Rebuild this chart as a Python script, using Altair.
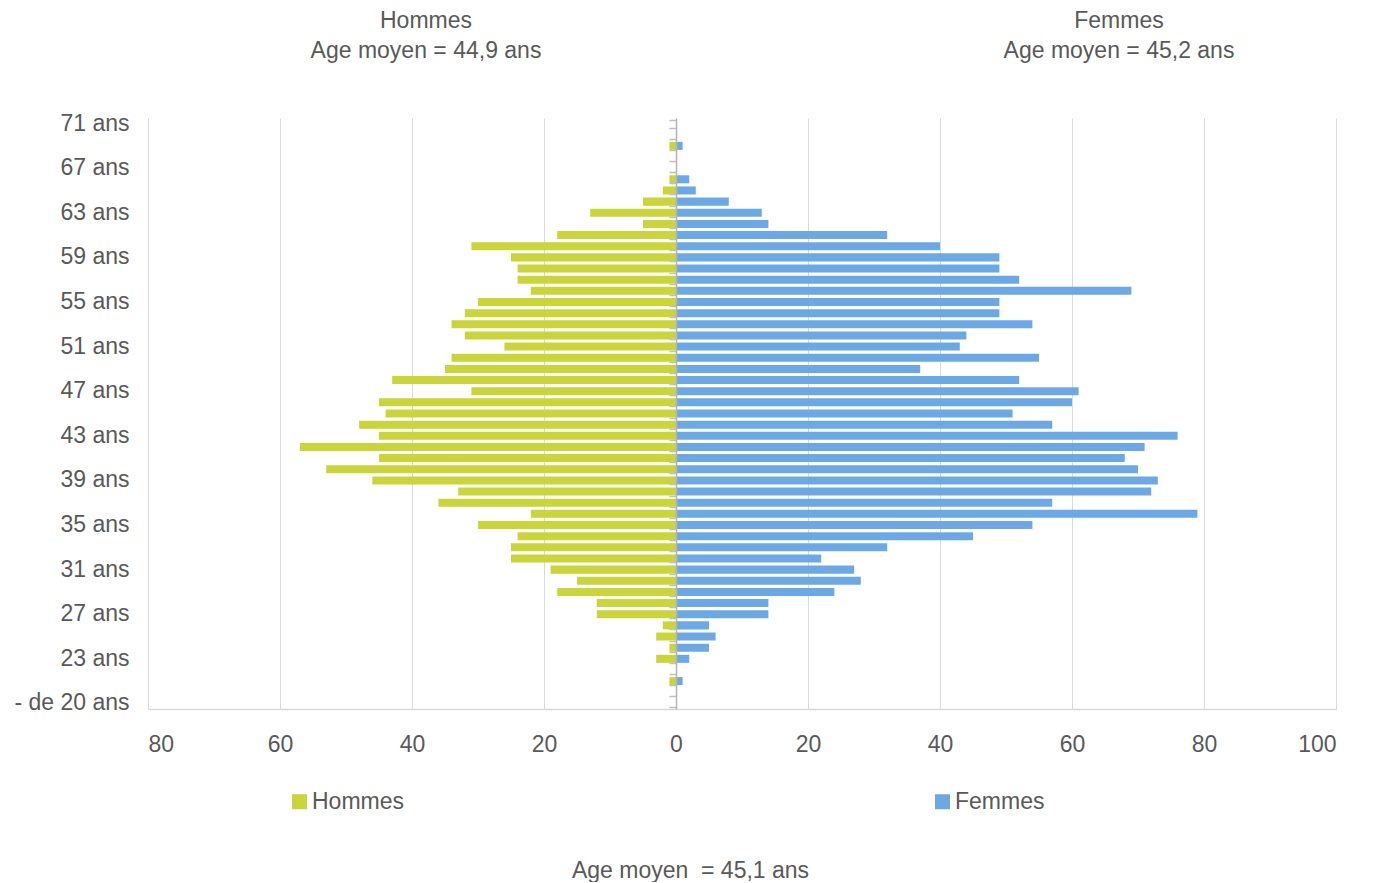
import json
import altair as alt
import pandas as pd

ages = ["- de 20 ans"] + [f"{a} ans" for a in range(20, 72)]
hommes = [0, 0, 1, 0, 3, 1, 3, 2, 12, 12, 18, 15, 19, 25, 25, 24, 30, 22, 36, 33,
          46, 53, 45, 57, 45, 48, 44, 45, 31, 43, 35, 34, 26, 32, 34, 32, 30, 22,
          24, 24, 25, 31, 18, 5, 13, 5, 2, 1, 0, 0, 1, 0, 0]
femmes = [0, 0, 1, 0, 2, 5, 6, 5, 14, 14, 24, 28, 27, 22, 32, 45, 54, 79, 57, 72,
          73, 70, 68, 71, 76, 57, 51, 60, 61, 52, 37, 55, 43, 44, 54, 49, 49, 69,
          52, 49, 49, 40, 32, 14, 13, 8, 3, 2, 0, 0, 1, 0, 0]
shown_labels = ["71 ans", "67 ans", "63 ans", "59 ans", "55 ans", "51 ans", "47 ans",
                "43 ans", "39 ans", "35 ans", "31 ans", "27 ans", "23 ans", "- de 20 ans"]
x_ticks = [-80, -60, -40, -20, 0, 20, 40, 60, 80, 100]
sexes = ["Hommes", "Femmes"]
title_hommes = ["Hommes", "Age moyen = 44,9 ans"]
title_femmes = ["Femmes", "Age moyen = 45,2 ans"]
title_total = "Age moyen \u00a0= 45,1 ans"

GREEN = "#C9D53B"
BLUE = "#6CA9E4"
TEXT = "#595959"
FONT = "Liberation Sans"
FS = 23

rows = []
for a, h, f in zip(ages, hommes, femmes):
    rows.append({"Age": a, "Sexe": "Hommes", "Valeur": -h})
    rows.append({"Age": a, "Sexe": "Femmes", "Valeur": f})
df = pd.DataFrame(rows)

W, H = 1188, 591
zero_px = W * (0 - x_ticks[0]) / (x_ticks[-1] - x_ticks[0])

yscale = alt.Scale(domain=ages[::-1], paddingInner=0.28, paddingOuter=0.14)
xscale = alt.Scale(domain=[x_ticks[0], x_ticks[-1]], nice=False, zero=False)

x_axis = alt.Axis(
    values=x_ticks, labelExpr="abs(datum.value)", grid=True, gridColor="#d9d9d9",
    gridWidth=1, domainColor="#d9d9d9", domainWidth=1.5, ticks=False, tickSize=0,
    labelPadding=24, labelFontSize=FS, labelColor=TEXT, labelFont=FONT,
    title=title_total, titleX=542, titleY=161, titleFontSize=FS, titleColor=TEXT,
    titleFont=FONT, titleFontWeight="normal", titleBaseline="middle", titleAlign="center",
)

legend = alt.Legend(
    orient="none", legendX=140, legendY=672, direction="horizontal", title=None,
    symbolType="square", symbolSize=225, symbolStrokeWidth=0, symbolOpacity=1,
    labelFontSize=FS, labelColor=TEXT, labelFont=FONT, labelOffset=1,
    columnPadding=526, padding=0,
)
color = alt.Color("Sexe:N", scale=alt.Scale(domain=sexes, range=[GREEN, BLUE]), legend=legend)

label_expr = f"indexof({json.dumps(shown_labels)}, datum.value) >= 0 ? datum.value : ''"

men = alt.Chart(df).transform_filter(alt.datum.Sexe == "Hommes").mark_bar().encode(
    x=alt.X("Valeur:Q", scale=xscale, axis=x_axis),
    y=alt.Y("Age:N", scale=yscale, sort=ages[::-1], axis=alt.Axis(
        orient="left", domain=False, ticks=False, tickSize=0, grid=False,
        labelExpr=label_expr, labelOverlap=False, labelPadding=19,
        labelFontSize=FS, labelColor=TEXT, labelFont=FONT, title=None)),
    color=color,
)

women = alt.Chart(df).transform_filter(alt.datum.Sexe == "Femmes").mark_bar().encode(
    x=alt.X("Valeur:Q", scale=xscale, axis=x_axis),
    y=alt.Y("Age:N", scale=yscale, sort=ages[::-1], axis=alt.Axis(
        orient="left", offset=-zero_px, domain=True, domainColor="#b3b3b3", domainWidth=1.5,
        ticks=True, tickBand="extent", tickSize=7, tickColor="#c0c0c0", tickWidth=1.5,
        labels=False, grid=False, title=None, zindex=1)),
    color=color,
)

one = pd.DataFrame({"k": [0]})
t_h = alt.Chart(one).mark_text(fontSize=FS, font=FONT, color=TEXT, align="center",
                               baseline="middle", lineHeight=30).encode(
    text=alt.value(title_hommes), x=alt.value(278), y=alt.value(-97))
t_f = alt.Chart(one).mark_text(fontSize=FS, font=FONT, color=TEXT, align="center",
                               baseline="middle", lineHeight=30).encode(
    text=alt.value(title_femmes), x=alt.value(971), y=alt.value(-97))

chart = alt.layer(men, women, t_h, t_f).resolve_axis(y="independent").properties(
    width=W, height=H, padding={"left": 5, "top": 2, "right": 5, "bottom": 0}
).configure(font=FONT).configure_view(strokeWidth=0, stroke="transparent")

chart.save("out.html", embed_options={"renderer": "svg", "actions": False})
